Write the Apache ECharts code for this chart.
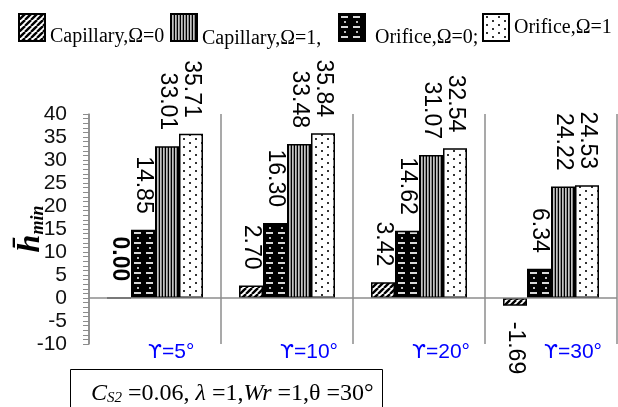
<!DOCTYPE html>
<html>
<head>
<meta charset="utf-8">
<script src="https://cdn.jsdelivr.net/npm/echarts@6/dist/echarts.min.js"></script>
<style>
  html, body { margin: 0; padding: 0; background: #fff; }
  #chart { width: 618px; height: 407px; }
</style>
</head>
<body>
<div id="chart"></div>
<script>
// Groups along the x axis
const categories = ['ϒ=5°', 'ϒ=10°', 'ϒ=20°', 'ϒ=30°'];

// Dimensionless minimum film thickness per configuration
const capillaryOmega0 = [0.00, 2.70, 3.42, -1.69];
const orificeOmega0   = [14.85, 16.30, 14.62, 6.34];
const capillaryOmega1 = [33.01, 33.48, 31.07, 24.22];
const orificeOmega1   = [35.71, 35.84, 32.54, 24.53];

// Value axis range and step
const yMin = -10;
const yMax = 40;
const yStep = 5;

// Fill patterns drawn on small tiles
function tile(w, h, draw) {
  const c = document.createElement('canvas');
  c.width = w; c.height = h;
  draw(c.getContext('2d'), w, h);
  return { image: c, repeat: 'repeat' };
}
const hatchFill = tile(6, 6, (g, w, h) => {
  g.fillStyle = '#fff'; g.fillRect(0, 0, w, h);
  g.strokeStyle = '#000'; g.lineWidth = 2.4;
  for (let k = -w; k <= w; k += w) {
    g.beginPath(); g.moveTo(k, h); g.lineTo(k + w, 0); g.stroke();
  }
});
const stripeFill = tile(3, 4, (g, w, h) => {
  const cols = ['#000', '#c4c4c4', '#8a8a8a'];
  cols.forEach((col, i) => { g.fillStyle = col; g.fillRect(i, 0, 1, h); });
});
const dashFill = tile(12, 10, (g, w, h) => {
  g.fillStyle = '#000'; g.fillRect(0, 0, w, h);
  g.fillStyle = '#d8d8d8'; g.fillRect(2, 2, 7, 2);
  g.fillStyle = '#bbb'; g.fillRect(5, 7, 2, 2);
});
const dotFill = tile(12, 8, (g, w, h) => {
  g.fillStyle = '#fff'; g.fillRect(0, 0, w, h);
  g.fillStyle = '#333'; g.fillRect(3, 2, 2, 2); g.fillRect(9, 6, 2, 2);
});

const labelFont = 'Liberation Sans';
const serifFont = 'Liberation Serif';
const axisGray = '#8c8c8c';

function barData(values) {
  return values.map(v => {
    const item = { value: v };
    if (v < 0) {
      item.label = { position: 'bottom', align: 'left' };
    } else if (v === 0) {
      item.label = { fontWeight: 'bold' };
    }
    return item;
  });
}

function barSeries(name, values, fill) {
  return {
    name: name,
    type: 'bar',
    data: barData(values),
    barWidth: 24,
    barGap: '0%',
    itemStyle: { color: fill, borderColor: '#000', borderWidth: 1.5 },
    label: {
      show: true,
      position: 'top',
      distance: 16,
      rotate: -90,
      align: 'right',
      verticalAlign: 'middle',
      fontFamily: labelFont,
      fontSize: 23,
      color: '#000',
      formatter: p => p.value.toFixed(2)
    }
  };
}

function legendAt(name, left, top, text, shift) {
  return {
    data: [name],
    left: left,
    top: top,
    icon: 'rect',
    itemWidth: 26,
    itemHeight: 27,
    selectedMode: false,
    padding: 0,
    formatter: () => '{a|' + text + '}',
    textStyle: {
      rich: { a: { fontFamily: serifFont, fontSize: 20, color: '#000', padding: [shift, 0, 0, 0] } }
    }
  };
}

const series = [
  barSeries('Capillary,Ω=0', capillaryOmega0, hatchFill),
  barSeries('Orifice,Ω=0', orificeOmega0, dashFill),
  barSeries('Capillary,Ω=1', capillaryOmega1, stripeFill),
  barSeries('Orifice,Ω=1', orificeOmega1, dotFill)
];
// Baseline at zero across the plot
series[0].markLine = {
  silent: true,
  symbol: 'none',
  label: { show: false },
  lineStyle: { color: axisGray, width: 1.5, type: 'solid' },
  data: [{ yAxis: 0 }]
};

const chart = echarts.init(document.getElementById('chart'), null, { renderer: 'canvas' });
chart.setOption({
  animation: false,
  backgroundColor: '#fff',
  grid: { left: 89, right: 1, top: 114, bottom: 63, containLabel: false, outerBoundsMode: 'none' },
  legend: [
    legendAt('Capillary,Ω=0', 18, 13, 'Capillary,Ω=0', 19),
    legendAt('Capillary,Ω=1', 170, 13, 'Capillary,Ω=1,', 23),
    legendAt('Orifice,Ω=0', 338, 13, ' Orifice,Ω=0;', 21),
    legendAt('Orifice,Ω=1', 482, 13, 'Orifice,Ω=1', 0)
  ],
  xAxis: {
    type: 'category',
    data: categories,
    axisLine: { show: false, onZero: false },
    axisTick: { show: false },
    splitLine: { show: true, interval: 0, lineStyle: { color: axisGray, width: 1.5 } },
    axisLabel: {
      interval: 0,
      margin: -2,
      align: 'center',
      padding: [0, 0, 0, 50],
      formatter: v => '{u|' + v.charAt(0) + '}{t|' + v.slice(1) + '}',
      rich: {
        u: { align: 'left', fontFamily: 'DejaVu Sans', fontSize: 20, color: '#0000ff' },
        t: { width: 50, align: 'left', fontFamily: labelFont, fontSize: 21, color: '#0000ff' }
      }
    }
  },
  yAxis: {
    type: 'value',
    min: yMin,
    max: yMax,
    interval: yStep,
    name: '{h|h\u0304}{m|min}',
    nameLocation: 'middle',
    nameGap: 42,
    nameMoveOverlap: false,
    nameTextStyle: {
      rich: {
        h: { fontFamily: serifFont, fontStyle: 'italic', fontWeight: 'bold', fontSize: 32, color: '#000', verticalAlign: 'bottom' },
        m: { fontFamily: serifFont, fontStyle: 'italic', fontWeight: 'bold', fontSize: 18, color: '#000', verticalAlign: 'bottom' }
      }
    },
    axisLine: { show: true, lineStyle: { color: axisGray, width: 1.5 } },
    axisTick: { show: true, length: 6, lineStyle: { color: axisGray } },
    minorTick: { show: true, splitNumber: 5, length: 6, lineStyle: { color: axisGray } },
    splitLine: { show: false },
    axisLabel: { margin: 22, fontFamily: labelFont, fontSize: 21, color: '#111' }
  },
  series: series,
  graphic: [
    {
      type: 'rect',
      shape: { x: 70.5, y: 369.5, width: 312, height: 50 },
      style: { fill: '#fff', stroke: '#000', lineWidth: 1 },
      z: 10
    },
    {
      type: 'text',
      x: 91,
      y: 394,
      z: 11,
      style: {
        text: '{i|C}{s|S2}{n| =0.06, }{i|λ}{n| =1,}{i|Wr}{n| =1,θ =30°}',
        verticalAlign: 'middle',
        rich: {
          i: { fontFamily: serifFont, fontStyle: 'italic', fontSize: 24, fill: '#000' },
          s: { fontFamily: serifFont, fontStyle: 'italic', fontSize: 15, fill: '#000', padding: [9, 0, 0, 0] },
          n: { fontFamily: serifFont, fontSize: 24, fill: '#000' }
        }
      }
    }
  ]
});
</script>
</body>
</html>
